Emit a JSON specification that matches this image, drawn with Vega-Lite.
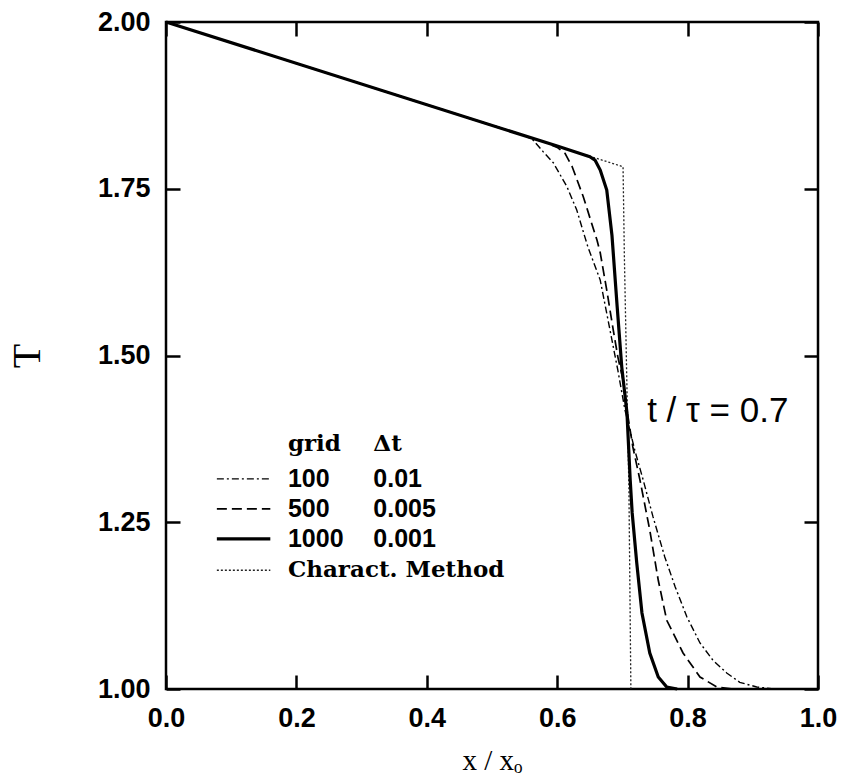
{
  "$schema": "https://vega.github.io/schema/vega-lite/v6.json",
  "width": 652,
  "height": 667,
  "autosize": {"type": "none"},
  "padding": {"left": 166, "top": 22, "right": 30, "bottom": 93},
  "background": "white",
  "config": {
    "view": {"stroke": "black", "strokeWidth": 2.5},
    "axis": {
      "domain": false,
      "grid": false,
      "ticks": true,
      "tickColor": "black",
      "tickWidth": 2.5,
      "tickSize": -14,
      "labelFont": "Liberation Sans",
      "labelFontWeight": "bold",
      "labelFontSize": 27,
      "labelColor": "black",
      "labelFlush": false,
      "labelOverlap": false,
      "titleColor": "black"
    }
  },
  "datasets": {
    "curves": [
      {"s": "100", "x": 0, "T": 2.0},
      {"s": "100", "x": 0.55, "T": 1.830},
      {"s": "100", "x": 0.563, "T": 1.823},
      {"s": "100", "x": 0.578, "T": 1.806},
      {"s": "100", "x": 0.594, "T": 1.789},
      {"s": "100", "x": 0.615, "T": 1.753},
      {"s": "100", "x": 0.630, "T": 1.718},
      {"s": "100", "x": 0.647, "T": 1.663},
      {"s": "100", "x": 0.666, "T": 1.613},
      {"s": "100", "x": 0.681, "T": 1.538},
      {"s": "100", "x": 0.693, "T": 1.478},
      {"s": "100", "x": 0.704, "T": 1.418},
      {"s": "100", "x": 0.719, "T": 1.358},
      {"s": "100", "x": 0.732, "T": 1.313},
      {"s": "100", "x": 0.747, "T": 1.258},
      {"s": "100", "x": 0.765, "T": 1.198},
      {"s": "100", "x": 0.781, "T": 1.153},
      {"s": "100", "x": 0.799, "T": 1.108},
      {"s": "100", "x": 0.819, "T": 1.069},
      {"s": "100", "x": 0.839, "T": 1.043},
      {"s": "100", "x": 0.860, "T": 1.024},
      {"s": "100", "x": 0.880, "T": 1.010},
      {"s": "100", "x": 0.906, "T": 1.003},
      {"s": "100", "x": 0.934, "T": 1.0},
      {"s": "500", "x": 0, "T": 2.0},
      {"s": "500", "x": 0.58, "T": 1.820},
      {"s": "500", "x": 0.60, "T": 1.812},
      {"s": "500", "x": 0.612, "T": 1.803},
      {"s": "500", "x": 0.623, "T": 1.783},
      {"s": "500", "x": 0.640, "T": 1.738},
      {"s": "500", "x": 0.661, "T": 1.673},
      {"s": "500", "x": 0.666, "T": 1.654},
      {"s": "500", "x": 0.676, "T": 1.598},
      {"s": "500", "x": 0.686, "T": 1.538},
      {"s": "500", "x": 0.693, "T": 1.498},
      {"s": "500", "x": 0.701, "T": 1.463},
      {"s": "500", "x": 0.707, "T": 1.418},
      {"s": "500", "x": 0.716, "T": 1.363},
      {"s": "500", "x": 0.727, "T": 1.313},
      {"s": "500", "x": 0.742, "T": 1.238},
      {"s": "500", "x": 0.755, "T": 1.163},
      {"s": "500", "x": 0.768, "T": 1.103},
      {"s": "500", "x": 0.793, "T": 1.054},
      {"s": "500", "x": 0.819, "T": 1.018},
      {"s": "500", "x": 0.845, "T": 1.003},
      {"s": "500", "x": 0.870, "T": 1.0},
      {"s": "1000", "x": 0, "T": 2.0},
      {"s": "1000", "x": 0.6, "T": 1.814},
      {"s": "1000", "x": 0.65, "T": 1.798},
      {"s": "1000", "x": 0.658, "T": 1.793},
      {"s": "1000", "x": 0.666, "T": 1.778},
      {"s": "1000", "x": 0.676, "T": 1.748},
      {"s": "1000", "x": 0.684, "T": 1.680},
      {"s": "1000", "x": 0.692, "T": 1.573},
      {"s": "1000", "x": 0.699, "T": 1.483},
      {"s": "1000", "x": 0.707, "T": 1.414},
      {"s": "1000", "x": 0.712, "T": 1.313},
      {"s": "1000", "x": 0.715, "T": 1.264},
      {"s": "1000", "x": 0.722, "T": 1.189},
      {"s": "1000", "x": 0.730, "T": 1.114},
      {"s": "1000", "x": 0.742, "T": 1.054},
      {"s": "1000", "x": 0.755, "T": 1.018},
      {"s": "1000", "x": 0.768, "T": 1.003},
      {"s": "1000", "x": 0.784, "T": 1.0},
      {"s": "char", "x": 0, "T": 2.0},
      {"s": "char", "x": 0.701, "T": 1.783},
      {"s": "char", "x": 0.703, "T": 1.65},
      {"s": "char", "x": 0.706, "T": 1.5},
      {"s": "char", "x": 0.710, "T": 1.3},
      {"s": "char", "x": 0.713, "T": 1.0}
    ],
    "legendLines": [
      {"s": "100", "x1": 0.078, "x2": 0.16, "T": 1.315},
      {"s": "500", "x1": 0.078, "x2": 0.16, "T": 1.270},
      {"s": "1000", "x1": 0.078, "x2": 0.16, "T": 1.225},
      {"s": "char", "x1": 0.078, "x2": 0.16, "T": 1.178}
    ],
    "legendSerif": [
      {"label": "grid", "x": 0.187, "T": 1.368},
      {"label": "Δt", "x": 0.318, "T": 1.368},
      {"label": "Charact. Method", "x": 0.187, "T": 1.178}
    ],
    "legendSans": [
      {"label": "100", "x": 0.187, "T": 1.315},
      {"label": "0.01", "x": 0.318, "T": 1.315},
      {"label": "500", "x": 0.187, "T": 1.270},
      {"label": "0.005", "x": 0.318, "T": 1.270},
      {"label": "1000", "x": 0.187, "T": 1.225},
      {"label": "0.001", "x": 0.318, "T": 1.225}
    ],
    "note": [
      {"label": "t / τ = 0.7", "x": 0.738, "T": 1.40}
    ]
  },
  "layer": [
    {
      "data": {"name": "curves"},
      "transform": [{"filter": "datum.s === 'char'"}],
      "mark": {"type": "line", "color": "#222222", "strokeWidth": 1.3, "strokeDash": [2, 2]},
      "encoding": {
        "x": {
          "field": "x", "type": "quantitative",
          "scale": {"domain": [0, 1], "nice": false, "zero": false},
          "axis": {
            "orient": "bottom",
            "values": [0, 0.2, 0.4, 0.6, 0.8, 1.0],
            "format": ".1f",
            "labelPadding": 30,
            "title": "x / xₒ",
            "titleFont": "Liberation Serif",
            "titleFontSize": 29,
            "titleFontWeight": "normal",
            "titlePadding": 15
          }
        },
        "y": {
          "field": "T", "type": "quantitative",
          "scale": {"domain": [1, 2], "nice": false, "zero": false},
          "axis": {
            "orient": "left",
            "values": [1.0, 1.25, 1.5, 1.75, 2.0],
            "format": ".2f",
            "labelPadding": 30,
            "title": "T",
            "titleFont": "Liberation Serif",
            "titleFontSize": 40,
            "titleFontWeight": "normal",
            "titlePadding": 50
          }
        }
      }
    },
    {
      "data": {"name": "curves"},
      "transform": [{"filter": "datum.s === '100'"}],
      "mark": {"type": "line", "color": "black", "strokeWidth": 1.4, "strokeDash": [7, 3, 2, 3]},
      "encoding": {
        "x": {"field": "x", "type": "quantitative", "axis": null},
        "y": {"field": "T", "type": "quantitative", "axis": null}
      }
    },
    {
      "data": {"name": "curves"},
      "transform": [{"filter": "datum.s === '500'"}],
      "mark": {"type": "line", "color": "black", "strokeWidth": 1.7, "strokeDash": [10, 5]},
      "encoding": {
        "x": {"field": "x", "type": "quantitative", "axis": null},
        "y": {"field": "T", "type": "quantitative", "axis": null}
      }
    },
    {
      "data": {"name": "curves"},
      "transform": [{"filter": "datum.s === '1000'"}],
      "mark": {"type": "line", "color": "black", "strokeWidth": 3.2},
      "encoding": {
        "x": {"field": "x", "type": "quantitative", "axis": null},
        "y": {"field": "T", "type": "quantitative", "axis": null}
      }
    },
    {
      "data": {"name": "legendLines"},
      "transform": [{"filter": "datum.s === 'char'"}],
      "mark": {"type": "rule", "color": "#222222", "strokeWidth": 1.3, "strokeDash": [2, 2]},
      "encoding": {
        "x": {
          "field": "x1", "type": "quantitative",
          "axis": {"orient": "top", "values": [0, 0.2, 0.4, 0.6, 0.8, 1.0], "labels": false, "title": null}
        },
        "x2": {"field": "x2"},
        "y": {
          "field": "T", "type": "quantitative",
          "axis": {"orient": "right", "values": [1.0, 1.25, 1.5, 1.75, 2.0], "labels": false, "title": null}
        }
      }
    },
    {
      "data": {"name": "legendLines"},
      "transform": [{"filter": "datum.s === '100'"}],
      "mark": {"type": "rule", "color": "black", "strokeWidth": 1.4, "strokeDash": [7, 3, 2, 3]},
      "encoding": {
        "x": {"field": "x1", "type": "quantitative", "axis": null},
        "x2": {"field": "x2"},
        "y": {"field": "T", "type": "quantitative", "axis": null}
      }
    },
    {
      "data": {"name": "legendLines"},
      "transform": [{"filter": "datum.s === '500'"}],
      "mark": {"type": "rule", "color": "black", "strokeWidth": 1.7, "strokeDash": [10, 5]},
      "encoding": {
        "x": {"field": "x1", "type": "quantitative", "axis": null},
        "x2": {"field": "x2"},
        "y": {"field": "T", "type": "quantitative", "axis": null}
      }
    },
    {
      "data": {"name": "legendLines"},
      "transform": [{"filter": "datum.s === '1000'"}],
      "mark": {"type": "rule", "color": "black", "strokeWidth": 3.2},
      "encoding": {
        "x": {"field": "x1", "type": "quantitative", "axis": null},
        "x2": {"field": "x2"},
        "y": {"field": "T", "type": "quantitative", "axis": null}
      }
    },
    {
      "data": {"name": "legendSerif"},
      "mark": {"type": "text", "align": "left", "baseline": "middle", "font": "DejaVu Serif", "fontWeight": "bold", "fontSize": 23, "color": "black"},
      "encoding": {
        "x": {"field": "x", "type": "quantitative", "axis": null},
        "y": {"field": "T", "type": "quantitative", "axis": null},
        "text": {"field": "label"}
      }
    },
    {
      "data": {"name": "legendSans"},
      "mark": {"type": "text", "align": "left", "baseline": "middle", "font": "Liberation Sans", "fontWeight": "bold", "fontSize": 25, "color": "black"},
      "encoding": {
        "x": {"field": "x", "type": "quantitative", "axis": null},
        "y": {"field": "T", "type": "quantitative", "axis": null},
        "text": {"field": "label"}
      }
    },
    {
      "data": {"name": "note"},
      "mark": {"type": "text", "align": "left", "baseline": "alphabetic", "font": "Liberation Sans", "fontSize": 35, "color": "black"},
      "encoding": {
        "x": {"field": "x", "type": "quantitative", "axis": null},
        "y": {"field": "T", "type": "quantitative", "axis": null},
        "text": {"field": "label"}
      }
    }
  ],
  "resolve": {"axis": {"x": "independent", "y": "independent"}}
}
